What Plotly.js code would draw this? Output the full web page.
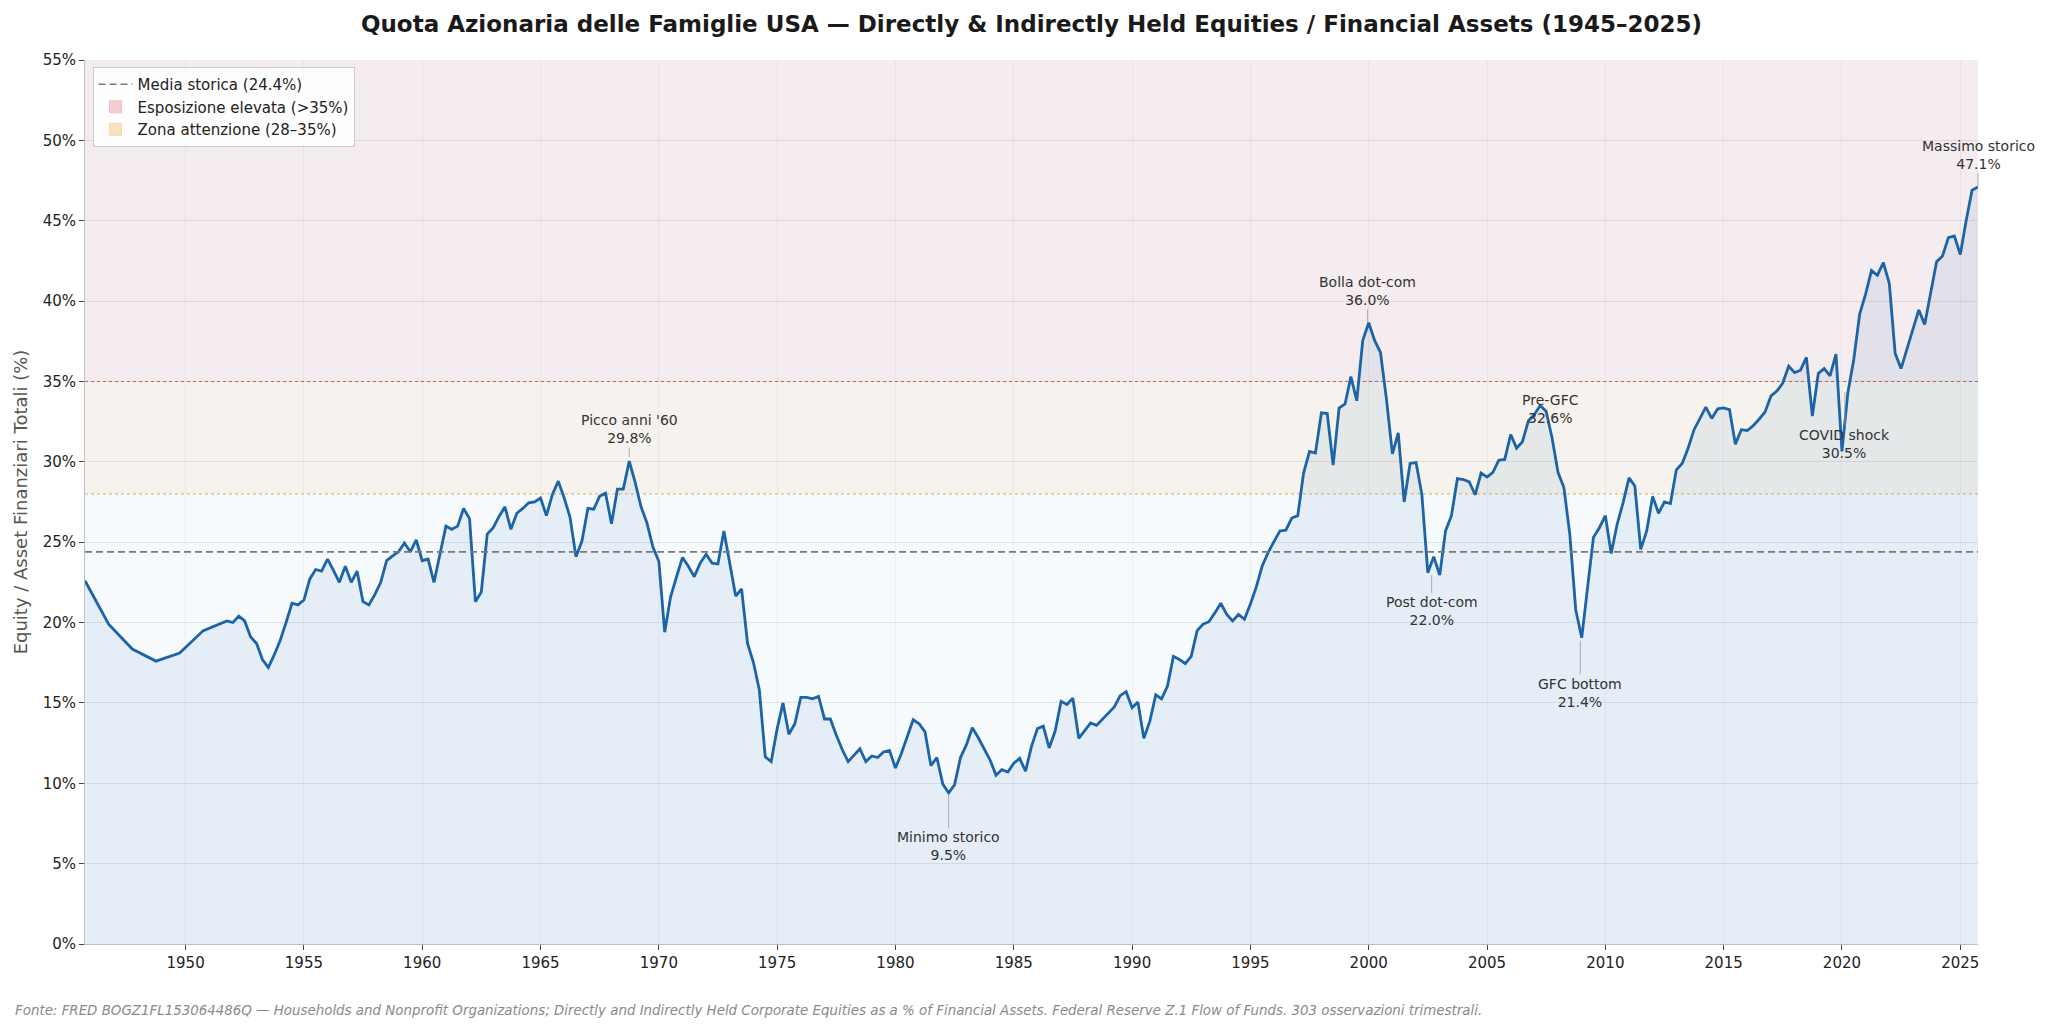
<!DOCTYPE html>
<html>
<head>
<meta charset="utf-8">
<script src="https://cdn.plot.ly/plotly-3.0.1.min.js"></script>
<style>
html, body { margin: 0; padding: 0; background: #ffffff; }
#chart { width: 2048px; height: 1030px; }
</style>
</head>
<body>
<div id="chart"></div>
<script>
// ---- Dati ----
// Osservazioni annuali (Q4) 1945–1951
const anniAnnuali = [1945, 1946, 1947, 1948, 1949, 1950, 1951];
const quotaAnnuale = [22.6, 19.9, 18.35, 17.6, 18.1, 19.5, 20.1];

// Osservazioni trimestrali dal 1952 Q1 (4 valori per anno)
const primoAnnoTrimestrale = 1952;
const quota1950s = [
  20.0, 20.4, 20.1, 19.1,   // 1952
  18.7, 17.7, 17.2, 18.0,   // 1953
  18.9, 20.0, 21.2, 21.1,   // 1954
  21.4, 22.7, 23.3, 23.2,   // 1955
  23.95, 23.25, 22.5, 23.5, // 1956
  22.5, 23.2, 21.3, 21.1,   // 1957
  21.75, 22.5, 23.85, 24.15,// 1958
  24.4, 24.95, 24.4, 25.15  // 1959
];
const quota1960s = [
  23.85, 23.95, 22.5, 24.25, // 1960
  26.0, 25.8, 26.0, 27.1,    // 1961
  26.45, 21.3, 21.9, 25.5,   // 1962
  25.9, 26.6, 27.2, 25.8,    // 1963
  26.8, 27.1, 27.45, 27.5,   // 1964
  27.75, 26.65, 27.95, 28.8, // 1965
  27.75, 26.55, 24.1, 25.05, // 1966
  27.1, 27.05, 27.85, 28.05, // 1967
  26.15, 28.3, 28.3, 30.05,  // 1968
  28.7, 27.2, 26.2, 24.7     // 1969
];
const quota1970s = [
  23.8, 19.4, 21.6, 22.85,   // 1970
  24.05, 23.5, 22.85, 23.7,  // 1971
  24.25, 23.7, 23.65, 25.7,  // 1972
  23.65, 21.65, 22.1, 18.7,  // 1973
  17.5, 15.8, 11.65, 11.35,  // 1974
  13.4, 15.0, 13.05, 13.7,   // 1975
  15.35, 15.35, 15.25, 15.4, // 1976
  14.0, 14.0, 13.0, 12.1,    // 1977
  11.35, 11.75, 12.15, 11.35,// 1978
  11.7, 11.6, 11.95, 12.05   // 1979
];
const quota1980s = [
  10.95, 11.85, 12.9, 13.95, // 1980
  13.7, 13.2, 11.1, 11.6,    // 1981
  9.95, 9.4, 9.9, 11.6,      // 1982
  12.4, 13.45, 12.85, 12.15, // 1983
  11.45, 10.5, 10.85, 10.7,  // 1984
  11.25, 11.55, 10.75, 12.3, // 1985
  13.4, 13.55, 12.2, 13.25,  // 1986
  15.1, 14.9, 15.3, 12.8,    // 1987
  13.3, 13.75, 13.6, 14.0,   // 1988
  14.4, 14.75, 15.45, 15.7   // 1989
];
const quota1990s = [
  14.7, 15.05, 12.8, 13.85,  // 1990
  15.5, 15.25, 16.05, 17.9,  // 1991
  17.7, 17.45, 17.9, 19.5,   // 1992
  19.9, 20.05, 20.6, 21.2,   // 1993
  20.5, 20.1, 20.5, 20.2,    // 1994
  21.15, 22.2, 23.5, 24.35,  // 1995
  25.05, 25.7, 25.75, 26.5,  // 1996
  26.65, 29.3, 30.65, 30.55, // 1997
  33.05, 33.0, 29.8, 33.35,  // 1998
  33.6, 35.3, 33.8, 37.55    // 1999
];
const quota2000s = [
  38.65, 37.55, 36.8, 33.9,  // 2000
  30.5, 31.8, 27.5, 29.9,    // 2001
  29.95, 27.95, 23.1, 24.1,  // 2002
  22.95, 25.7, 26.65, 28.95, // 2003
  28.9, 28.75, 27.95, 29.3,  // 2004
  29.05, 29.35, 30.1, 30.15, // 2005
  31.7, 30.85, 31.25, 32.55, // 2006
  32.95, 33.5, 33.15, 31.5,  // 2007
  29.35, 28.4, 25.5, 20.8,   // 2008
  19.05, 22.3, 25.3, 25.9    // 2009
];
const quota2010s = [
  26.65, 24.3, 26.1, 27.45,  // 2010
  29.0, 28.5, 24.55, 25.7,   // 2011
  27.85, 26.8, 27.5, 27.4,   // 2012
  29.5, 29.9, 30.85, 32.0,   // 2013
  32.7, 33.4, 32.7, 33.3,    // 2014
  33.35, 33.25, 31.1, 32.0,  // 2015
  31.95, 32.25, 32.65, 33.1, // 2016
  34.1, 34.4, 34.9, 35.95,   // 2017
  35.55, 35.7, 36.5, 32.85,  // 2018
  35.5, 35.8, 35.35, 36.7    // 2019
];
const quota2020s = [
  30.65, 34.3, 36.35, 39.2,  // 2020
  40.45, 41.9, 41.6, 42.4,   // 2021
  41.1, 36.75, 35.8, 37.0,   // 2022
  38.2, 39.45, 38.55, 40.45, // 2023
  42.45, 42.8, 43.95, 44.05, // 2024
  42.9, 45.0, 46.9, 47.1     // 2025
];

const mediaStorica = 24.4;
const zonaElevata = [35, 55];
const zonaAttenzione = [28, 35];
const tickAnni = 'M60';

// Etichette: [testo, data della punta, valore della punta (%), offset x, offset y (px)]
const etichette = [
  ["Picco anni '60<br>29.8%",   '1968-10-01', 30.3, 0, -28],
  ['Minimo storico<br>9.5%',    '1982-04-01', 9.33, 0, 52],
  ['Bolla dot-com<br>36.0%',    '1999-12-15', 38.7, 0, -31],
  ['Post dot-com<br>22.0%',     '2002-08-30', 22.95, 0, 36],
  ['Pre-GFC<br>32.6%',          '2007-09-06', 33.3, 0, 0],
  ['GFC bottom<br>21.4%',       '2008-12-10', 18.87, 0, 52],
  ['COVID shock<br>30.5%',      '2020-02-15', 34.35, 0, 52],
  ['Massimo storico<br>47.1%',  '2025-10-01', 47.1, 0, -32]
];
const fonte = 'Fonte: FRED BOGZ1FL153064486Q — Households and Nonprofit Organizations; Directly and Indirectly Held Corporate Equities as a % of Financial Assets. Federal Reserve Z.1 Flow of Funds. 303 osservazioni trimestrali.';

// ---- Costruzione serie ----
const date = [];
const valori = [];
anniAnnuali.forEach((a, i) => { date.push(a + '-10-01'); valori.push(quotaAnnuale[i]); });
const trimestrali = [].concat(quota1950s, quota1960s, quota1970s, quota1980s, quota1990s, quota2000s, quota2010s, quota2020s);
const mesi = ['01', '04', '07', '10'];
trimestrali.forEach((v, i) => {
  const anno = primoAnnoTrimestrale + Math.floor(i / 4);
  date.push(anno + '-' + mesi[i % 4] + '-01');
  valori.push(v);
});
const primaData = date[0];
const ultimaData = date[date.length - 1];

const traces = [
  {
    x: date, y: valori, type: 'scatter', mode: 'lines',
    line: { color: '#1c64a6', width: 2.8 },
    fill: 'tozeroy', fillcolor: 'rgba(30,100,175,0.08)',
    showlegend: false, hoverinfo: 'x+y'
  },
  {
    x: [primaData, ultimaData], y: [mediaStorica, mediaStorica],
    type: 'scatter', mode: 'lines',
    line: { color: '#7a7a7a', width: 1.6, dash: '7px,4px' },
    name: 'Media storica (' + mediaStorica.toFixed(1) + '%)', legendrank: 1
  }
];

const shapes = [
  { type: 'rect', xref: 'paper', x0: 0, x1: 1, yref: 'y', y0: zonaElevata[0], y1: zonaElevata[1],
    fillcolor: 'rgba(214,39,40,0.065)', line: { width: 0 }, layer: 'below' },
  { type: 'rect', xref: 'paper', x0: 0, x1: 1, yref: 'y', y0: zonaAttenzione[0], y1: zonaAttenzione[1],
    fillcolor: 'rgba(235,160,60,0.07)', line: { width: 0 }, layer: 'below' },
  { type: 'line', xref: 'paper', x0: 0, x1: 1, yref: 'y', y0: zonaElevata[0], y1: zonaElevata[0],
    line: { color: 'rgba(200,60,50,0.75)', width: 1, dash: 'dot' }, layer: 'below' },
  { type: 'line', xref: 'paper', x0: 0, x1: 1, yref: 'y', y0: zonaAttenzione[0], y1: zonaAttenzione[0],
    line: { color: 'rgba(225,150,40,0.75)', width: 1, dash: 'dot' }, layer: 'below' },
  // voci di legenda per le zone (campioni di colore, area nulla)
  { type: 'rect', xref: 'paper', x0: 0, x1: 0, yref: 'y', y0: zonaElevata[0], y1: zonaElevata[0],
    fillcolor: '#f4cdd0', line: { color: '#efc0c4', width: 1 }, layer: 'below',
    showlegend: true, legendrank: 2, name: 'Esposizione elevata (>' + zonaElevata[0] + '%)' },
  { type: 'rect', xref: 'paper', x0: 0, x1: 0, yref: 'y', y0: zonaAttenzione[0], y1: zonaAttenzione[0],
    fillcolor: '#f9e1c0', line: { color: '#f4d6ae', width: 1 }, layer: 'below',
    showlegend: true, legendrank: 3, name: 'Zona attenzione (' + zonaAttenzione[0] + '–' + zonaAttenzione[1] + '%)' }
];

const annotations = etichette.map(e => ({
  x: e[1], y: e[2], xref: 'x', yref: 'y',
  text: e[0], showarrow: e[4] !== 0, ax: e[3], ay: e[4],
  arrowhead: 0, arrowwidth: 0.8, arrowcolor: '#999999',
  font: { family: 'DejaVu Sans', size: 14, color: '#333333' },
  align: 'center'
}));
annotations.push({
  xref: 'paper', yref: 'paper', x: -0.038, y: -0.0747, xanchor: 'left', yanchor: 'middle',
  text: fonte, showarrow: false, align: 'left',
  font: { family: 'DejaVu Sans', size: 13.4, color: '#8a8a8a', style: 'italic' }
});

const layout = {
  width: 2048, height: 1030,
  margin: { l: 85, r: 70, t: 60, b: 86 },
  paper_bgcolor: '#ffffff', plot_bgcolor: '#f7fafc',
  font: { family: 'DejaVu Sans', color: '#222222' },
  title: {
    text: '<b>Quota Azionaria delle Famiglie USA — Directly & Indirectly Held Equities / Financial Assets (1945–2025)</b>',
    font: { family: 'DejaVu Sans', size: 23, color: '#1a1a1a' },
    x: 0.5, xref: 'paper', xanchor: 'center', y: 0.977, yref: 'container', yanchor: 'middle'
  },
  xaxis: {
    type: 'date', range: [primaData, ultimaData],
    tick0: '1950-01-01', dtick: tickAnni, tickformat: '%Y',
    ticks: 'outside', ticklen: 5, tickcolor: '#444444', tickwidth: 1,
    showline: true, linecolor: '#c0c0c0', linewidth: 1,
    showgrid: true, gridcolor: 'rgba(0,0,0,0.045)', zeroline: false,
    tickfont: { size: 15, color: '#222222' }
  },
  yaxis: {
    range: [0, zonaElevata[1]], dtick: 5, ticksuffix: '%',
    ticks: 'outside', ticklen: 5, tickcolor: '#444444', tickwidth: 1,
    showline: true, linecolor: '#c0c0c0', linewidth: 1,
    showgrid: true, gridcolor: 'rgba(0,0,0,0.085)', zeroline: false,
    tickfont: { size: 15, color: '#222222' },
    title: { text: 'Equity / Asset Finanziari Totali (%)', font: { size: 18, color: '#555555' }, standoff: 10 }
  },
  legend: {
    x: 0.004, y: 0.992, xanchor: 'left', yanchor: 'top',
    bgcolor: 'rgba(255,255,255,0.9)', bordercolor: '#cccccc', borderwidth: 1,
    font: { size: 15, color: '#222222' }, tracegroupgap: 0, itemwidth: 34
  },
  shapes: shapes,
  annotations: annotations,
  hovermode: false
};

Plotly.newPlot('chart', traces, layout, { displayModeBar: false, staticPlot: true });
</script>
</body>
</html>
